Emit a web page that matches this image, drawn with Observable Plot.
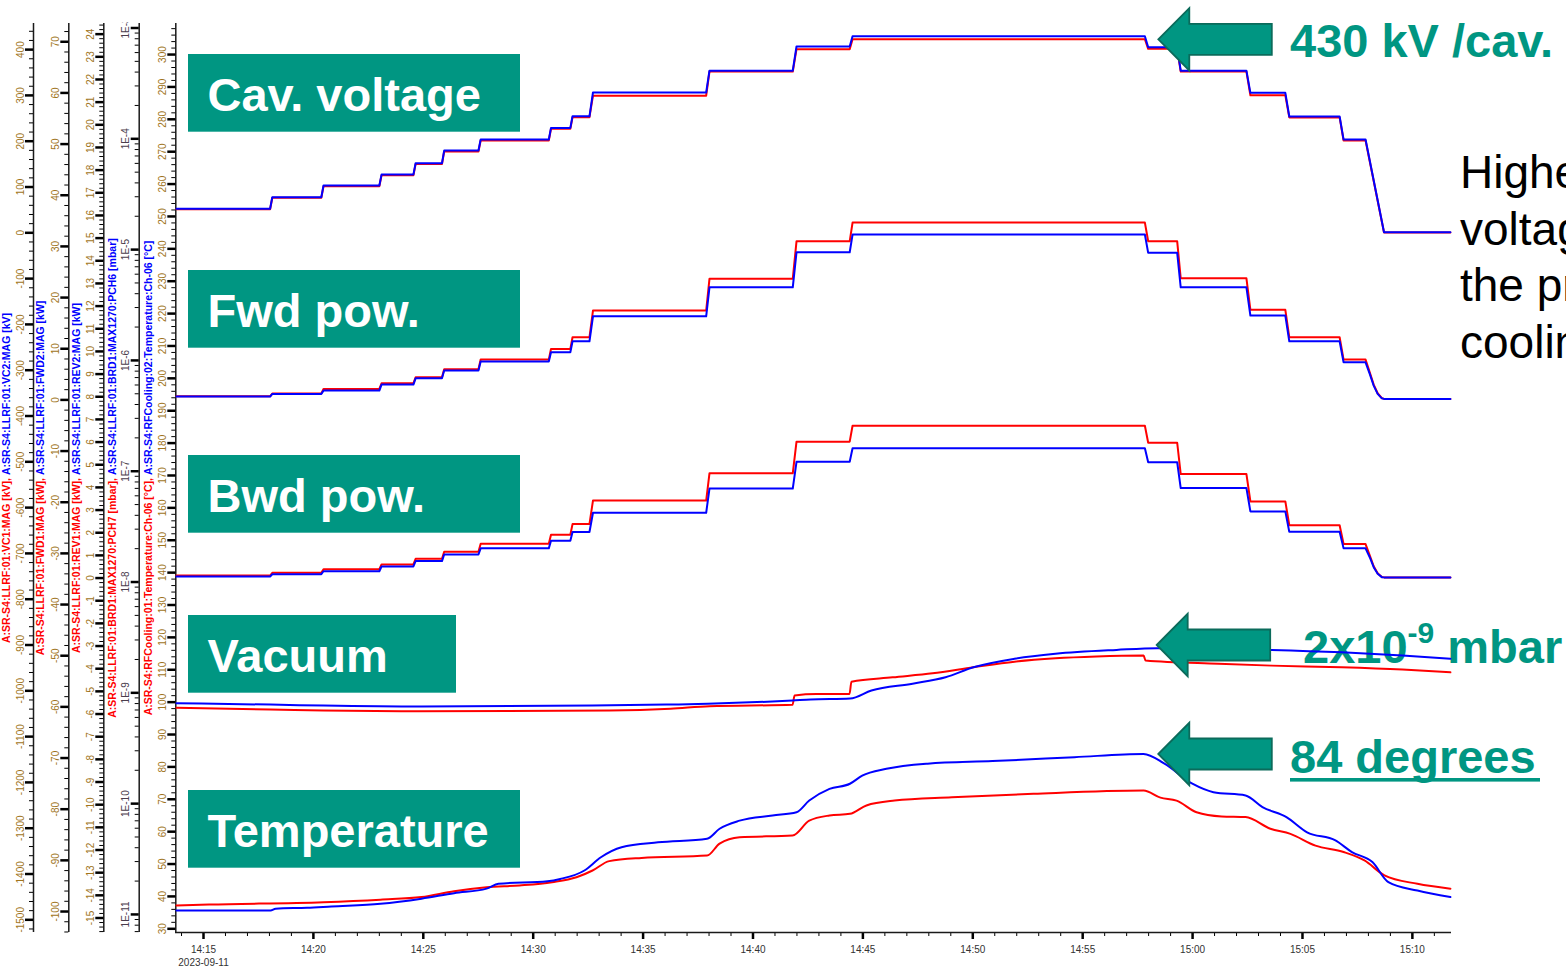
<!DOCTYPE html>
<html>
<head>
<meta charset="utf-8">
<script src="https://cdn.jsdelivr.net/npm/d3@7"></script>
<script src="https://cdn.jsdelivr.net/npm/@observablehq/plot@0.6"></script>
<style>
  html, body { margin: 0; padding: 0; background: #fff; overflow: hidden; }
  #wrap { position: relative; width: 1566px; height: 969px; overflow: hidden; background: #fff; }
  #wrap > svg { position: absolute; left: 0; top: 0; }
</style>
</head>
<body>
<div id="wrap"></div>
<script>
// ---------------- data (minutes after 14:00, 2023-09-11) ----------------
const segStart = [13.77, 18.13, 20.46, 23.10, 24.65, 25.95, 27.61, 30.81, 31.79, 32.72, 38.02, 41.98, 44.53, 57.98, 59.46, 62.63, 64.40, 66.87, 68.71];
const segEnd   = [18.03, 20.36, 23.00, 24.55, 25.85, 27.51, 30.71, 31.69, 32.56, 37.87, 41.81, 44.40, 57.83, 59.30, 62.45, 64.22, 66.69, 67.87, 71.73];
// cavity voltage [kV]
const vc1 = [51.5, 76.5, 101.5, 125.5, 150.0, 177.5, 201.5, 227.0, 252.5, 299.5, 352.0, 401.0, 422.6, 401.7, 352.0, 300.4, 252.0, 201.5, 0.8];
const vc2 = [52.4, 77.7, 103.2, 127.1, 151.8, 179.6, 203.6, 229.1, 254.4, 306.3, 354.1, 406.8, 429.3, 405.0, 354.1, 305.6, 253.9, 203.6, 1.3];
// forward power [kW]
const fwd1 = [0.70, 1.23, 2.15, 3.25, 4.42, 5.98, 7.88, 9.97, 12.24, 17.46, 23.66, 31.0, 34.66, 31.0, 23.77, 17.6, 12.24, 7.88, 0.2];
const fwd2 = [0.65, 1.17, 1.82, 2.99, 4.22, 5.73, 7.49, 9.31, 11.46, 16.34, 22.01, 28.86, 32.32, 28.74, 22.01, 16.48, 11.46, 7.35, 0.2];
// reflected power [kW]
const rev1 = [0.11, 0.23, 0.39, 0.60, 0.85, 1.16, 1.51, 1.91, 2.38, 3.42, 4.62, 6.02, 6.72, 5.97, 4.59, 3.38, 2.33, 1.50, 0.03];
const rev2 = [0.07, 0.17, 0.30, 0.51, 0.75, 1.04, 1.31, 1.65, 2.03, 2.88, 3.95, 5.13, 5.73, 5.11, 3.97, 2.94, 2.04, 1.31, 0.03];
// final decay of the powers
const decayTimes = [68.06, 68.24, 68.42, 68.61];
const fwd1Decay = [5.4, 3.0, 1.3, 0.35];
const fwd2Decay = [5.08, 2.80, 1.17, 0.31];
const rev1Decay = [1.0, 0.52, 0.21, 0.05];
const rev2Decay = [0.92, 0.48, 0.19, 0.04];
// vacuum [mbar]
const vacRedT = [13.77, 18.05, 20.46, 24.74, 33.47, 36.25, 38.02, 41.80, 41.89, 42.89, 44.39, 44.48, 46.35, 48.17, 50.03, 51.90, 53.76, 55.63, 57.77, 57.86, 61.18, 63.59, 66.78, 69.55, 71.73];
const vacRed  = [7.33e-10, 7.06e-10, 6.92e-10, 6.82e-10, 6.92e-10, 7.18e-10, 7.57e-10, 7.80e-10, 9.46e-10, 9.75e-10, 9.75e-10, 1.26e-9, 1.38e-9, 1.50e-9, 1.70e-9, 1.91e-9, 2.05e-9, 2.13e-9, 2.17e-9, 1.96e-9, 1.83e-9, 1.76e-9, 1.70e-9, 1.62e-9, 1.53e-9];
const vacBlueT = [13.77, 18.05, 20.46, 24.92, 32.70, 36.06, 37.93, 41.80, 42.62, 44.42, 45.39, 47.26, 48.76, 50.03, 51.90, 53.76, 56.54, 58.40, 63.59, 66.78, 69.55, 71.73];
const vacBlue  = [8.05e-10, 7.83e-10, 7.67e-10, 7.52e-10, 7.67e-10, 7.83e-10, 7.96e-10, 8.53e-10, 8.71e-10, 8.89e-10, 1.05e-9, 1.21e-9, 1.38e-9, 1.70e-9, 2.03e-9, 2.25e-9, 2.44e-9, 2.53e-9, 2.44e-9, 2.32e-9, 2.17e-9, 2.03e-9];
// cooling water temperature [°C]
const tempRedT = [13.77, 15.26, 20.46, 23.05, 24.92, 26.40, 27.88, 29.38, 30.86, 31.97, 32.70, 33.46, 34.93, 37.91, 38.48, 39.39, 41.80, 42.56, 43.48, 44.41, 45.16, 46.44, 49.05, 52.76, 57.77, 58.54, 59.27, 60.18, 61.32, 62.41, 63.54, 64.45, 65.59, 66.87, 67.82, 68.73, 70.23, 71.73];
const tempRed  = [37.2, 37.5, 38.2, 39.0, 39.8, 41.6, 42.8, 43.4, 44.4, 45.9, 48.0, 50.9, 51.9, 52.6, 56.3, 58.3, 58.8, 63.4, 65.0, 65.5, 68.1, 69.6, 70.6, 71.7, 72.7, 70.5, 69.6, 66.0, 64.7, 64.5, 60.9, 59.3, 55.7, 53.7, 51.1, 46.5, 43.9, 42.4];
const tempBlueT = [13.77, 18.05, 18.28, 19.71, 20.82, 23.05, 24.92, 26.40, 27.88, 28.42, 30.65, 31.23, 32.33, 33.08, 34.02, 35.68, 37.91, 38.48, 39.39, 40.89, 41.98, 42.56, 43.48, 44.41, 44.97, 46.07, 47.94, 50.90, 54.63, 57.77, 58.72, 59.99, 60.95, 62.41, 63.18, 64.27, 65.21, 66.50, 67.25, 68.18, 68.91, 70.23, 71.73];
const tempBlue  = [35.65, 35.65, 36.2, 36.5, 36.9, 37.7, 39.3, 41.0, 42.4, 43.9, 44.7, 45.4, 48.0, 52.1, 55.2, 56.7, 57.8, 60.9, 63.4, 65.0, 66.0, 69.6, 73.2, 74.8, 77.3, 79.4, 81.0, 81.8, 83.0, 84.0, 81.0, 74.8, 72.2, 71.2, 67.6, 64.5, 59.8, 57.3, 53.7, 50.6, 44.4, 41.8, 39.8];

// tick labels
const xTickLabels = ["14:15", "14:20", "14:25", "14:30", "14:35", "14:40", "14:45", "14:50", "14:55", "15:00", "15:05", "15:10"];
const dateLabel = "2023-09-11";
const kvTicks = d3.range(-1500, 401, 100);
const fwdTicks = d3.range(-100, 71, 10);
const revTicks = d3.range(-15, 25, 1);
const vacTicks = [1e-3, 1e-4, 1e-5, 1e-6, 1e-7, 1e-8, 1e-9, 1e-10, 1e-11];
const tempTicks = d3.range(30, 301, 10);

// axis titles [red part, blue part]
const titles = [
  ["A:SR-S4:LLRF:01:VC1:MAG [kV], ", "A:SR-S4:LLRF:01:VC2:MAG [kV]"],
  ["A:SR-S4:LLRF:01:FWD1:MAG [kW], ", "A:SR-S4:LLRF:01:FWD2:MAG [kW]"],
  ["A:SR-S4:LLRF:01:REV1:MAG [kW], ", "A:SR-S4:LLRF:01:REV2:MAG [kW]"],
  ["A:SR-S4:LLRF:01:BRD1:MAX1270:PCH7 [mbar], ", "A:SR-S4:LLRF:01:BRD1:MAX1270:PCH6 [mbar]"],
  ["A:SR-S4:RFCooling:01:Temperature:Ch-06 [°C], ", "A:SR-S4:RFCooling:02:Temperature:Ch-06 [°C]"]
];

// ---------------- layout ----------------
const W = 1566, H = 969, ML = 175, MR = 115, MT = 23, MB = 37;
const T0 = Date.UTC(2023, 8, 11, 14, 0);
const at = m => new Date(T0 + m * 60000);
const xDomain = [at(13.726), at(71.78)];
const axisPos = [33, 68.3, 103.3, 138.7, 175.3];
const titlePos = [9, 43.5, 79, 115, 151];
const RED = "#ff0000", BLUE = "#0000ff", TEAL = "#009682";
const TICK_COLOR = "#a0741c", LOG_COLOR = "#4a3c4c";
const FONT = '"Liberation Sans", Arial, sans-serif';
const TITLE_FS = 10.5;

const wrap = document.getElementById("wrap");
const ctx = document.createElement("canvas").getContext("2d");
ctx.font = `bold ${TITLE_FS}px "Liberation Sans", Arial, sans-serif`;

function steps(levels, decayVals) {
  const out = [];
  levels.forEach((v, k) => {
    out.push({t: at(segStart[k]), v}, {t: at(segEnd[k]), v});
    if (decayVals && k === 17) decayTimes.forEach((m, j) => out.push({t: at(m), v: decayVals[j]}));
  });
  return out;
}
const pairs = (T, V) => T.map((m, i) => ({t: at(m), v: V[i]}));

function axisMarks(i, majors, minors, fmt, color) {
  const dx = axisPos[i] - ML;
  return [
    Plot.ruleX([xDomain[0]], {dx, stroke: "#1a1a1a", strokeWidth: 1.5}),
    Plot.axisY({ticks: minors, anchor: "left", dx, tickSize: 4, strokeWidth: 1, stroke: "#000", fill: "none", label: null}),
    Plot.axisY({ticks: majors, anchor: "left", dx, tickSize: 8, tickPadding: 2, tickRotate: -90,
      strokeWidth: 2.5, stroke: "#000", fill: color, fontSize: 10, tickFormat: fmt, label: null})
  ];
}
function titleMarks(i) {
  const [r, b] = titles[i];
  const wr = ctx.measureText(r).width, wb = ctx.measureText(b).width, w = wr + wb;
  const dx = titlePos[i] - ML;
  const common = {text: d => d, frameAnchor: "left", rotate: -90, textAnchor: "start", lineAnchor: "bottom",
    dx, fontSize: TITLE_FS, fontWeight: "bold"};
  return [
    Plot.text([r], {...common, dy: w / 2, fill: RED}),
    Plot.text([b], {...common, dy: w / 2 - wr, fill: BLUE})
  ];
}
function layer(y, marks, opts = {}) {
  const svg = Plot.plot({
    width: W, height: H, marginLeft: ML, marginRight: MR, marginTop: MT, marginBottom: MB,
    x: {type: "utc", domain: xDomain, ...(opts.xAxis ? {} : {axis: null})},
    y: {...y, label: null},
    style: {background: "transparent", fontFamily: FONT, ...(opts.style || {})},
    marks
  });
  wrap.appendChild(svg);
  return svg;
}

// ---------------- underlay annotation (text crossed by curves) ----------------
{
  const u = d3.create("svg").attr("width", W).attr("height", H).style("font-family", FONT);
  const t = u.append("text").attr("x", 1303).attr("y", 663.3).attr("fill", TEAL)
    .attr("font-weight", "bold").attr("font-size", 47);
  t.append("tspan").text("2x10");
  t.append("tspan").attr("font-size", 30).attr("dy", -20).text("-9");
  t.append("tspan").attr("dy", 20).text(" mbar");
  wrap.appendChild(u.node());
}

// ---------------- layer 5: temperature (also x axis) ----------------
const tempDomain = [28.857, 309.59];
layer({domain: tempDomain}, [
  ...titleMarks(4),
  ...axisMarks(4, tempTicks, d3.range(30, 310, 2), d => String(d), TICK_COLOR),
  Plot.axisX({ticks: d3.range(14, 72).map(at), anchor: "bottom", tickSize: 4, strokeWidth: 1, stroke: "#000", fill: "none", label: null}),
  Plot.axisX({ticks: xTickLabels.map(s => { const [h, m] = s.split(":").map(Number); return at((h - 14) * 60 + m); }),
    anchor: "bottom", tickSize: 7, tickPadding: 4, strokeWidth: 2.5, stroke: "#000", fill: "#333", fontSize: 10, lineHeight: 1.3,
    tickFormat: d => { const m = Math.round((d - T0) / 60000); const s = `${14 + Math.floor(m / 60)}:${String(m % 60).padStart(2, "0")}`; return s === xTickLabels[0] ? s + "\n" + dateLabel : s; },
    label: null}),
  Plot.ruleY([tempDomain[0]], {stroke: "#1a1a1a", strokeWidth: 1.5}),
  Plot.line(pairs(tempRedT, tempRed), {x: "t", y: "v", stroke: RED, strokeWidth: 2, curve: "monotone-x"}),
  Plot.line(pairs(tempBlueT, tempBlue), {x: "t", y: "v", stroke: BLUE, strokeWidth: 2, curve: "monotone-x"})
], {xAxis: true});

// ---------------- layer 4: vacuum (log) ----------------
const vacMinor = [];
for (let k = -12; k <= -3; k++) for (let m = 2; m <= 9; m++) { const v = m * Math.pow(10, k); if (v > 6.9e-12 && v < 1.09e-3) vacMinor.push(v); }
layer({type: "log", domain: [Math.pow(10, -11.163), Math.pow(10, -2.9594)]}, [
  ...titleMarks(3),
  ...axisMarks(3, vacTicks, vacMinor, d => "1E" + Math.round(Math.log10(d)), LOG_COLOR),
  Plot.line(pairs(vacRedT, vacRed), {x: "t", y: "v", stroke: RED, strokeWidth: 2, curve: "monotone-x"}),
  Plot.line(pairs(vacBlueT, vacBlue), {x: "t", y: "v", stroke: BLUE, strokeWidth: 2, curve: "monotone-x"})
], {style: {clipPath: "inset(22px 0 0 0)"}});

// ---------------- layer 3: reflected power ----------------
layer({domain: [-15.64, 24.47]}, [
  ...titleMarks(2),
  ...axisMarks(2, revTicks, d3.range(-78, 123).map(i => i / 5), d => String(d), TICK_COLOR),
  Plot.line(steps(rev1, rev1Decay), {x: "t", y: "v", stroke: RED, strokeWidth: 2}),
  Plot.line(steps(rev2, rev2Decay), {x: "t", y: "v", stroke: BLUE, strokeWidth: 2})
]);

// ---------------- layer 2: forward power ----------------
layer({domain: [-104.1, 73.57]}, [
  ...titleMarks(1),
  ...axisMarks(1, fwdTicks, d3.range(-104, 74, 2), d => String(d), TICK_COLOR),
  Plot.line(steps(fwd1, fwd1Decay), {x: "t", y: "v", stroke: RED, strokeWidth: 2}),
  Plot.line(steps(fwd2, fwd2Decay), {x: "t", y: "v", stroke: BLUE, strokeWidth: 2})
]);

// ---------------- layer 1: cavity voltage ----------------
layer({domain: [-1527.7, 457.0]}, [
  ...titleMarks(0),
  ...axisMarks(0, kvTicks, d3.range(-1520, 460, 20), d => String(d), TICK_COLOR),
  Plot.line(steps(vc1), {x: "t", y: "v", stroke: RED, strokeWidth: 2}),
  Plot.line(steps(vc2), {x: "t", y: "v", stroke: BLUE, strokeWidth: 2})
]);

// ---------------- overlay annotations ----------------
{
  const o = d3.create("svg").attr("width", W).attr("height", H).style("font-family", FONT);
  const boxes = [
    {x: 188, y: 54, w: 332, label: "Cav. voltage"},
    {x: 188, y: 270, w: 332, label: "Fwd pow."},
    {x: 188, y: 455, w: 332, label: "Bwd pow."},
    {x: 188, y: 615, w: 268, label: "Vacuum"},
    {x: 188, y: 790, w: 332, label: "Temperature"}
  ];
  for (const b of boxes) {
    o.append("rect").attr("x", b.x).attr("y", b.y).attr("width", b.w).attr("height", 77.7).attr("fill", TEAL);
    o.append("text").attr("x", b.x + 19.5).attr("y", b.y + 56.7).attr("fill", "#fff")
      .attr("font-weight", "bold").attr("font-size", 47).text(b.label);
  }
  const arrows = [[1158.3, 39.3], [1156.7, 645], [1158.3, 754]];
  for (const [tx, ty] of arrows) {
    const pts = [[tx, ty], [tx + 31, ty - 31.2], [tx + 31, ty - 15.5], [tx + 113.5, ty - 15.5],
                 [tx + 113.5, ty + 15.5], [tx + 31, ty + 15.5], [tx + 31, ty + 31.2]];
    o.append("polygon").attr("points", pts.map(p => p.join(",")).join(" "))
      .attr("fill", TEAL).attr("stroke", "#0b6b5b").attr("stroke-width", 1.8).attr("stroke-linejoin", "miter");
  }
  o.append("text").attr("x", 1290).attr("y", 56.7).attr("fill", TEAL).attr("font-weight", "bold")
    .attr("font-size", 47).text("430 kV /cav.");
  o.append("text").attr("x", 1290).attr("y", 773.3).attr("fill", TEAL).attr("font-weight", "bold")
    .attr("font-size", 47).text("84 degrees");
  o.append("rect").attr("x", 1290).attr("y", 778).attr("width", 250).attr("height", 3.6).attr("fill", TEAL);
  const lines = ["Higher", "voltage", "the pressure", "cooling"];
  lines.forEach((s, i) => o.append("text").attr("x", 1460).attr("y", 188 + i * 56.7)
    .attr("fill", "#000").attr("font-size", 46).text(s));
  wrap.appendChild(o.node());
}
</script>
</body>
</html>
